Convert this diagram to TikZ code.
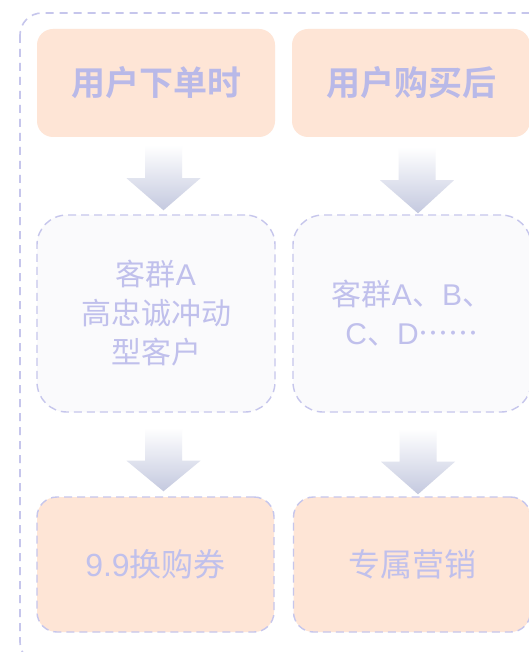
\documentclass[tikz,border=0pt]{standalone}
\usepackage{fontspec}
\setmainfont{Noto Sans CJK SC}[Language=Chinese Simplified]
\newfontfamily\cjkbold{Noto Sans CJK SC Bold}
\newfontfamily\lat{Liberation Sans}
\usetikzlibrary{calc}
\definecolor{peach}{HTML}{FEE5D6}
\definecolor{lav}{HTML}{B9B9E8}
\definecolor{lavtext}{HTML}{C0C0EC}
\definecolor{dashc}{HTML}{C6C6EC}
\definecolor{midfill}{HTML}{FAFAFC}
\definecolor{arrowbot}{HTML}{C4C9DF}
\tikzset{
  topbox/.style={fill=peach, rounded corners=16pt, minimum width=238pt, minimum height=108pt, text=lav, font=\cjkbold\fontsize{34}{36}\selectfont},
  midbox/.style={fill=midfill, draw=dashc, line width=1.4pt, dash pattern=on 8pt off 5pt, rounded corners=30pt, minimum width=238pt, minimum height=197pt, text=lavtext, align=center, font=\fontsize{30}{39}\selectfont},
  botbox/.style={fill=peach, draw=dashc, line width=1.4pt, dash pattern=on 8pt off 5pt, rounded corners=20pt, minimum width=237pt, minimum height=135pt, text=lavtext, font=\fontsize{32}{36}\selectfont},
  blockarrow/.style={top color=white, bottom color=arrowbot, draw=none}
}
\newcommand{\downarrowshape}[2]{%
  \shade[blockarrow] ($(#1)+(-18.5,0)$) -- ($(#1)+(18.5,0)$) -- ($(#1)+(18.5,33)$) -- ($(#1)+(37,33)$) -- (#2) -- ($(#1)+(-37,33)$) -- ($(#1)+(-18.5,33)$) -- cycle;}
\begin{document}
\begin{tikzpicture}[x=1pt,y=-1pt]
\useasboundingbox (0,0) rectangle (528,652);
\fill[white] (0,0) rectangle (528,652);
% outer dashed frame
\draw[dashc, line width=1.6pt, dash pattern=on 8pt off 6pt, rounded corners=22pt] (20,13) rectangle (580,664);
% top boxes
\node[topbox] (t1) at (156,83) {用户下单时};
\node[topbox] (t2) at (411,83) {用户购买后};
% middle boxes
\node[midbox] (m1) at (156,313.5) {客群{\lat A}\\高忠诚冲动\\型客户};
\node[midbox] (m2) at (412,313.5) {客群{\lat A}、{\lat B}、\\{\lat C}、{\lat D}⋯⋯};
% bottom boxes
\node[botbox] (b1) at (155.5,564.5) {{\lat 9.9}换购券};
\node[botbox] (b2) at (412,564.5) {专属营销};
% arrows
\coordinate (a1s) at ($(t1.south)+(7.5,8)$);
\coordinate (a1e) at ($(m1.north)+(7.5,-4)$);
\downarrowshape{a1s}{a1e}
\coordinate (a2s) at ($(t2.south)+(6,10)$);
\coordinate (a2e) at ($(m2.north)+(6,-1)$);
\downarrowshape{a2s}{a2e}
\coordinate (a3s) at ($(m1.south)+(7.5,15)$);
\coordinate (a3e) at ($(b1.north)+(8,-5)$);
\downarrowshape{a3s}{a3e}
\coordinate (a4s) at ($(m2.south)+(6,16)$);
\coordinate (a4e) at ($(b2.north)+(6,-2)$);
\downarrowshape{a4s}{a4e}
\end{tikzpicture}
\end{document}
